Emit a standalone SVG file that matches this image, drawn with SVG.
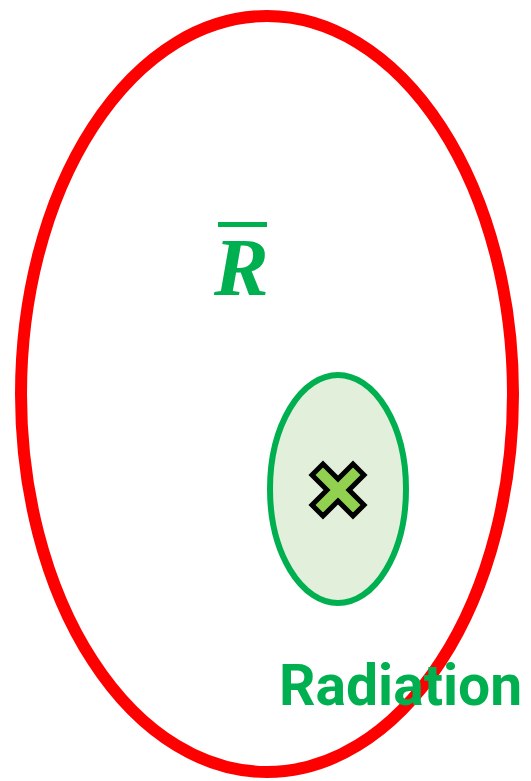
<svg xmlns="http://www.w3.org/2000/svg" width="531" height="781" viewBox="0 0 531 781">
<style>
.lbl{fill:#00b050;font-weight:bold}
</style>
<rect width="531" height="781" fill="#fff"/>
<g id="outer"><ellipse cx="267" cy="394" rx="246" ry="378" fill="none" stroke="#ff0000" stroke-width="12"/></g>
<g id="rbar">
<rect x="218" y="222" width="49" height="5" fill="#00b050"/>
<text class="lbl" x="214" y="295" font-family="Liberation Serif, serif" font-style="italic" font-size="82">R</text>
</g>
<g id="radiation">
<ellipse cx="338" cy="489" rx="68" ry="114" fill="#e2efda" stroke="#00b050" stroke-width="6"/>
<path d="M0,-11 L15,-26 L26,-15 L11,0 L26,15 L15,26 L0,11 L-15,26 L-26,15 L-11,0 L-26,-15 L-15,-26 Z" transform="translate(338,490)" fill="#92d050" stroke="#000" stroke-width="5" stroke-linejoin="miter"/>
</g>
<text class="lbl" x="279" y="705" font-family="Roboto, sans-serif" font-size="57">Radiation</text>
</svg>
